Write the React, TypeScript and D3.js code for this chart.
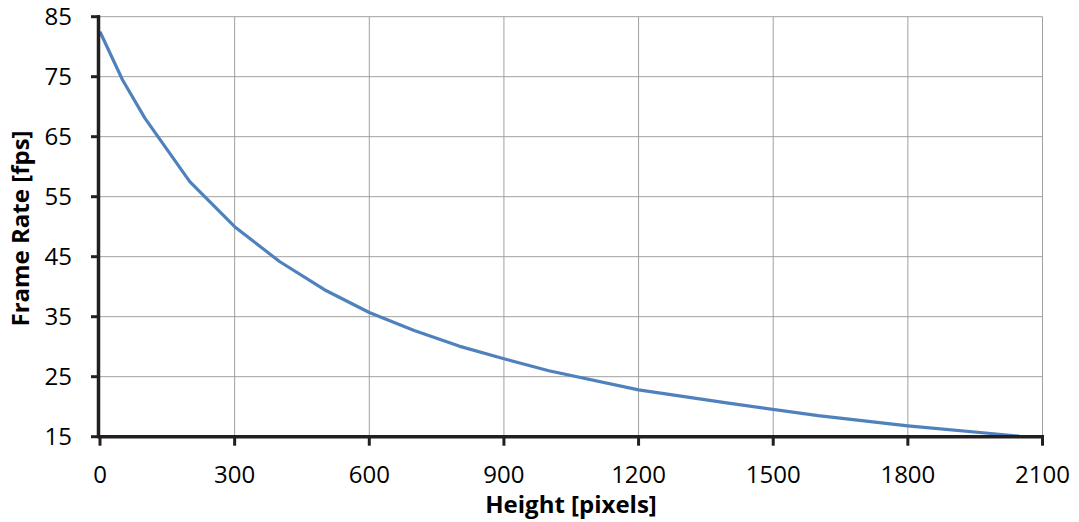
import React from "react";
import * as d3 from "d3";

const heights = [0, 50, 100, 200, 300, 400, 500, 600, 700, 800, 900, 1000, 1200, 1400, 1600, 1800, 2048];
const fps = [82.5, 74.5, 68.1, 57.5, 50, 44.2, 39.5, 35.7, 32.7, 30.1, 28.0, 26.0, 22.8, 20.6, 18.5, 16.8, 15.1];
const xTicks = [0, 300, 600, 900, 1200, 1500, 1800, 2100];
const yTicks = [15, 25, 35, 45, 55, 65, 75, 85];
const xTitle = "Height [pixels]";
const yTitle = "Frame Rate [fps]";

const W = 1079;
const H = 522;
const FONT = "'Open Sans', 'Noto Sans', sans-serif";

export default function App() {
  const x = d3.scaleLinear().domain([0, 2100]).range([100, 1042.5]);
  const y = d3.scaleLinear().domain([15, 85]).range([436.7, 16.7]);
  const pts: [number, number][] = heights.map((h, i) => [h, fps[i]]);
  const line = d3
    .line<[number, number]>()
    .x((d) => x(d[0]))
    .y((d) => y(d[1]));
  const x0 = x(0);
  const y0 = y(15);
  return (
    <svg
      width={W}
      height={H}
      style={{ position: "fixed", left: 0, top: 0, background: "#fff" }}
    >
      <rect x={0} y={0} width={W} height={H} fill="#fff" />
      {/* grid */}
      {yTicks
        .filter((t) => t !== 15)
        .map((t) => (
          <line key={"gy" + t} x1={x0} x2={x(2100)} y1={y(t)} y2={y(t)} stroke="#a0a0a0" strokeWidth={1} />
        ))}
      {xTicks
        .filter((t) => t !== 0)
        .map((t) => (
          <line key={"gx" + t} x1={x(t)} x2={x(t)} y1={y(85)} y2={y0} stroke="#a0a0a0" strokeWidth={1} />
        ))}
      {/* series */}
      <path d={line(pts) || ""} fill="none" stroke="#4f81bd" strokeWidth={3.2} strokeLinejoin="round" />
      {/* axes */}
      <line x1={x0 - 1.5} x2={x0 - 1.5} y1={y(85) - 1.5} y2={y0 + 1.5} stroke="#231f20" strokeWidth={3.5} />
      <line x1={x0 - 1.5} x2={x(2100) + 1.5} y1={y0} y2={y0} stroke="#231f20" strokeWidth={3.5} />
      {yTicks.map((t) => (
        <line key={"ty" + t} x1={x0 - 9} x2={x0} y1={y(t)} y2={y(t)} stroke="#231f20" strokeWidth={3} />
      ))}
      {xTicks.map((t) => (
        <line key={"tx" + t} x1={x(t)} x2={x(t)} y1={y0} y2={y0 + 9} stroke="#231f20" strokeWidth={3} />
      ))}
      {/* tick labels */}
      {yTicks.map((t) => (
        <text
          key={"ly" + t}
          x={72}
          y={y(t)}
          dy="0.36em"
          textAnchor="end"
          fontFamily={FONT}
          fontSize={24}
          fill="#000"
        >
          {t}
        </text>
      ))}
      {xTicks.map((t) => (
        <text
          key={"lx" + t}
          x={x(t)}
          y={483}
          textAnchor="middle"
          fontFamily={FONT}
          fontSize={24}
          fill="#000"
        >
          {t}
        </text>
      ))}
      {/* titles */}
      <text x={571} y={513} textAnchor="middle" fontFamily={FONT} fontSize={24} fontWeight="bold" fill="#000">
        {xTitle}
      </text>
      <text
        transform={`translate(29,228.5) rotate(-90)`}
        textAnchor="middle"
        fontFamily={FONT}
        fontSize={24}
        fontWeight="bold"
        fill="#000"
      >
        {yTitle}
      </text>
    </svg>
  );
}
